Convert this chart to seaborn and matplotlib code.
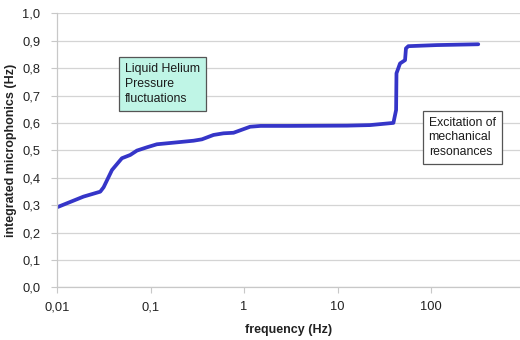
import numpy as np
import pandas as pd
import matplotlib
matplotlib.use("Agg")
import matplotlib.pyplot as plt
import seaborn as sns
from matplotlib.ticker import FixedLocator, NullLocator

# Data
freq = [0.01, 0.0192, 0.029, 0.0315, 0.0387, 0.0494, 0.0607, 0.0716, 0.0916,
        0.117, 0.191, 0.288, 0.354, 0.471, 0.603, 0.771, 1.0, 1.16, 1.5,
        3.0, 12.6, 22.2, 39.5, 42.2, 42.6, 46.5, 52.6, 53.8, 57.0, 115, 319]
micro = [0.292, 0.331, 0.349, 0.365, 0.428, 0.471, 0.483, 0.499, 0.511,
         0.522, 0.529, 0.535, 0.540, 0.556, 0.562, 0.564, 0.578, 0.586, 0.589,
         0.589, 0.590, 0.592, 0.600, 0.647, 0.781, 0.817, 0.829, 0.872, 0.880, 0.884, 0.887]
x_ticks = [0.01, 0.1, 1, 10, 100]
x_tick_labels = ["0,01", "0,1", "1", "10", "100"]
y_ticks = [0.0, 0.1, 0.2, 0.3, 0.4, 0.5, 0.6, 0.7, 0.8, 0.9, 1.0]
y_tick_labels = ["0,0", "0,1", "0,2", "0,3", "0,4", "0,5", "0,6", "0,7", "0,8", "0,9", "1,0"]

df = pd.DataFrame({"freq": freq, "micro": micro})

sns.set_theme(style="white")
plt.rcParams['font.family'] = ['Liberation Sans', 'DejaVu Sans']

fig = plt.figure(figsize=(5.2, 3.4), dpi=100)
ax = fig.add_axes([57/520, 1 - 287.3/340, 1 - 57/520, (287.3 - 13.3)/340])

sns.lineplot(data=df, x="freq", y="micro", ax=ax, color="#3535c8", linewidth=2.7,
             solid_joinstyle="round", solid_capstyle="round")

ax.set_xscale("log")
ax.set_xlim(0.01, 10**2.95)
ax.set_ylim(0, 1.0)
ax.xaxis.set_major_locator(FixedLocator(x_ticks))
ax.xaxis.set_minor_locator(NullLocator())
ax.set_xticks(x_ticks)
ax.set_xticklabels(x_tick_labels)
ax.set_yticks(y_ticks)
ax.set_yticklabels(y_tick_labels)

ax.grid(axis="y", color="#d4d4d4", linewidth=0.9)
ax.grid(axis="x", visible=False)
ax.set_axisbelow(True)

for s in ["top", "right"]:
    ax.spines[s].set_visible(False)
for s in ["left", "bottom"]:
    ax.spines[s].set_color("#c8c8c8")
    ax.spines[s].set_linewidth(0.9)

ax.tick_params(axis="both", which="major", length=4, width=0.8, color="#c8c8c8",
               labelsize=9.3, labelcolor="#222222", direction="out",
               bottom=True, left=True)
ax.tick_params(axis="y", pad=8)
ax.tick_params(axis="x", pad=6)

ax.set_xlabel("frequency (Hz)", fontsize=9, fontweight="bold", color="#222222", labelpad=8)
ax.set_ylabel("integrated microphonics (Hz)", fontsize=9, fontweight="bold", color="#222222", labelpad=4)

ax.text(0.0533, 0.742, "Liquid Helium\nPressure\nfluctuations", fontsize=8.8, color="#1a1a1a",
        va="center", ha="left", linespacing=1.3,
        bbox=dict(boxstyle="square,pad=0.5", facecolor="#bff5e6", edgecolor="#555555", linewidth=0.9))
ax.text(94, 0.547, "Excitation of\nmechanical\nresonances", fontsize=8.8, color="#1a1a1a",
        va="center", ha="left", linespacing=1.3,
        bbox=dict(boxstyle="square,pad=0.5", facecolor="white", edgecolor="#555555", linewidth=0.9))

fig.savefig("out.png", dpi=100)
